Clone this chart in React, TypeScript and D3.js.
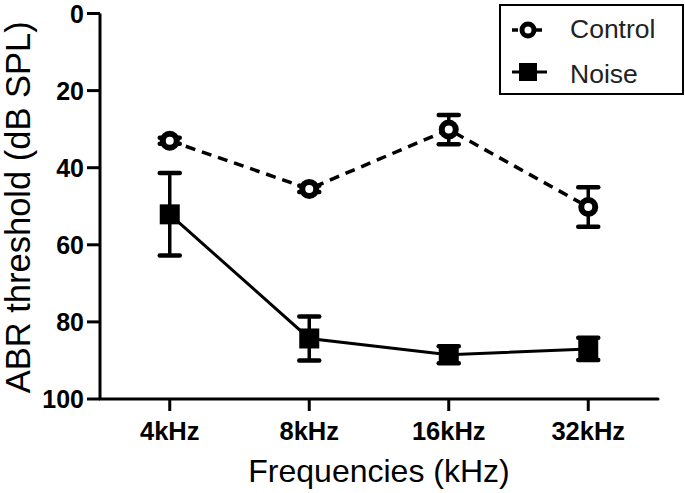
import React from "react";
import * as d3 from "d3";

const categories = ["4kHz", "8kHz", "16kHz", "32kHz"];
const controlMean = [33, 45.5, 30.1, 50.2];
const controlErr = [0.8, 0.8, 3.8, 5.1];
const noiseMean = [52.1, 84.3, 88.5, 87.0];
const noiseErr = [10.7, 5.7, 2.2, 2.9];
const yTicks = [0, 20, 40, 60, 80, 100];

const W = 685;
const H = 493;
const left = 100;
const right = 658;
const top = 13.5;
const bottom = 399;

export default function App() {
  const x = d3.scalePoint<string>().domain(categories).range([left, right]).padding(0.5);
  const y = d3.scaleLinear().domain([0, 100]).range([top, bottom]);
  const line = d3
    .line<number>()
    .x((_, i) => x(categories[i]) as number)
    .y((d) => y(d));

  const font = "'Liberation Sans', Arial, sans-serif";
  const capW = 10;
  const sq = 20;

  const errBars = (means: number[], errs: number[], key: string) =>
    means.map((m, i) => {
      const cx = x(categories[i]) as number;
      const y1 = y(m - errs[i]);
      const y2 = y(m + errs[i]);
      return (
        <g key={key + i} stroke="#000" strokeWidth={3.5}>
          <line x1={cx} x2={cx} y1={y1} y2={y2} />
          <line x1={cx - capW} x2={cx + capW} y1={y1} y2={y1} strokeWidth={4.5} strokeLinecap="round" />
          <line x1={cx - capW} x2={cx + capW} y1={y2} y2={y2} strokeWidth={4.5} strokeLinecap="round" />
        </g>
      );
    });

  return (
    <svg
      width={W}
      height={H}
      style={{ position: "absolute", left: 0, top: 0, background: "#fff" }}
      fontFamily={font}
    >
      <rect x={0} y={0} width={W} height={H} fill="#fff" />
      {/* axes */}
      <line x1={left} x2={left} y1={y(0)} y2={y(100)} stroke="#000" strokeWidth={3} />
      <line x1={left} x2={right} y1={y(100)} y2={y(100)} stroke="#000" strokeWidth={3} strokeLinecap="round" />
      {yTicks.map((t) => (
        <g key={"yt" + t}>
          <line x1={left - 13} x2={left} y1={y(t)} y2={y(t)} stroke="#000" strokeWidth={3} />
          <text
            x={left - 16}
            y={y(t)}
            dy="0.36em"
            textAnchor="end"
            fontSize={25}
            fontWeight="bold"
          >
            {t}
          </text>
        </g>
      ))}
      {categories.map((c) => (
        <g key={"xt" + c}>
          <line x1={x(c)} x2={x(c)} y1={y(100)} y2={y(100) + 12} stroke="#000" strokeWidth={3} />
          <text x={x(c)} y={440} textAnchor="middle" fontSize={25.5} fontWeight="bold">
            {c}
          </text>
        </g>
      ))}
      <text x={(left + right) / 2} y={482} textAnchor="middle" fontSize={32}>
        Frequencies (kHz)
      </text>
      <text
        transform={`translate(30,${(y(0) + y(100)) / 2 + 1}) rotate(-90)`}
        textAnchor="middle"
        fontSize={34.5}
      >
        ABR threshold (dB SPL)
      </text>

      {/* lines */}
      <path d={line(controlMean) || ""} fill="none" stroke="#000" strokeWidth={3.5} strokeDasharray="10 7" />
      <path d={line(noiseMean) || ""} fill="none" stroke="#000" strokeWidth={3} />

      {errBars(controlMean, controlErr, "ce")}
      {errBars(noiseMean, noiseErr, "ne")}

      {controlMean.map((m, i) => (
        <circle
          key={"cm" + i}
          cx={x(categories[i])}
          cy={y(m)}
          r={7}
          fill="#fff"
          stroke="#000"
          strokeWidth={6}
        />
      ))}
      {noiseMean.map((m, i) => (
        <rect
          key={"nm" + i}
          x={(x(categories[i]) as number) - sq / 2}
          y={y(m) - sq / 2}
          width={sq}
          height={sq}
          fill="#000"
        />
      ))}

      {/* legend */}
      <rect x={500} y={5} width={183} height={89} fill="#fff" stroke="#000" strokeWidth={2} />
      <line x1={512} x2={547} y1={30} y2={30} stroke="#000" strokeWidth={3.5} strokeDasharray="6 6" />
      <circle cx={528} cy={30} r={6} fill="#fff" stroke="#000" strokeWidth={5} />
      <text x={570} y={38} fontSize={26.5} fill="#222">
        Control
      </text>
      <line x1={512} x2={547} y1={72} y2={72} stroke="#000" strokeWidth={3} />
      <rect x={528 - 9} y={72 - 9} width={18} height={18} fill="#000" />
      <text x={570} y={83} fontSize={26.5} fill="#222">
        Noise
      </text>
    </svg>
  );
}
